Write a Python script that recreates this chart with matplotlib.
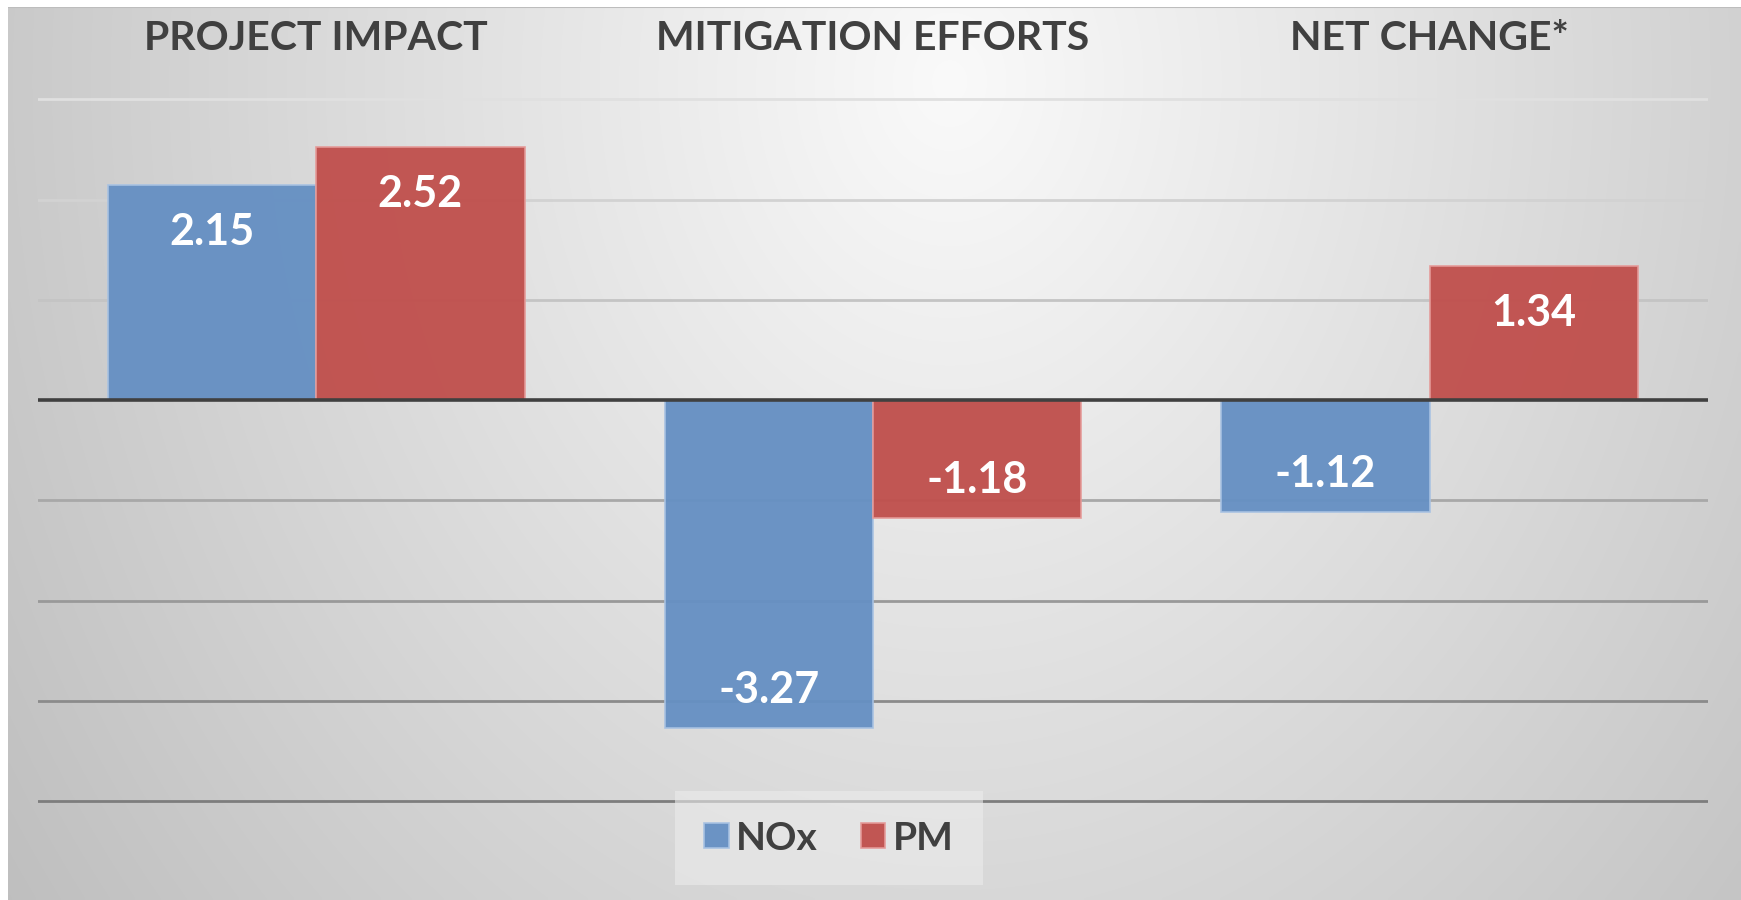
"""
Emissões: impacto do projeto, mitigação e variação líquida (NOx vs PM)
Execute: python plot.py
"""
import numpy as np
import matplotlib
matplotlib.use("Agg")
import matplotlib.pyplot as plt
from matplotlib.transforms import blended_transform_factory

# %% dados
categorias = ["PROJECT IMPACT", "MITIGATION EFFORTS", "NET CHANGE*"]
series = ["NOx", "PM"]
nox = [2.15, -3.27, -1.12]
pm = [2.52, -1.18, 1.34]
grid_vals = [3, 2, 1, -1, -2, -3, -4]

cores = ["#6690c3", "#c0504d"]
bordas = ["#a8c2e2", "#e59a98"]
fonte = ["Lato", "DejaVu Sans"]
cinza_txt = "#404040"

W, H = 1741, 900
fig = plt.figure(figsize=(W / 100, H / 100), dpi=100)
fig.patch.set_facecolor("white")

# %% fundo com gradiente radial (estilo Excel)
bg = fig.add_axes([8 / W, 0, 1 - 8 / W, 1 - 7 / H])
xx, yy = np.meshgrid(np.linspace(8, W, 400), np.linspace(7, H, 220))
r = np.sqrt(((xx - 950) / 900) ** 2 + ((yy - 80) / 1100) ** 2)
lum = np.clip(0.98 - 0.18 * r, 0, 1)
bg.imshow(np.dstack([lum, lum, lum]), aspect="auto", interpolation="bilinear",
          extent=[0, 1, 0, 1])
bg.axhline(1, color="#bdbdbd", lw=1.5)
bg.set_axis_off()

# %% eixo principal
x0, x1 = 38, 1708
ax = fig.add_axes([x0 / W, 0, (x1 - x0) / W, 1])
ax.patch.set_alpha(0)
ax.set_xlim(-0.5, 2.5)
ax.set_ylim(-4.985, 3.99)
ax.set_axis_off()

for v in grid_vals:
    g = np.interp(v, [-4, 3], [0.49, 0.88])
    ax.axhline(v, color=(g, g, g), lw=2, zorder=1)
ax.axhline(0, color="#404040", lw=2.6, zorder=4)

x = np.arange(len(categorias))
w = 0.374
for i, (vals, cor, borda, nome) in enumerate(zip([nox, pm], cores, bordas, series)):
    pos = x + (i - 0.5) * w
    ax.bar(pos, vals, width=w, color=cor, edgecolor=borda, linewidth=1.2,
           alpha=0.96, zorder=3, label=nome)
    for xb, v in zip(pos, vals):
        off = -47 if v > 0 else 38
        ax.annotate(f"{v:.2f}", (xb, v), xytext=(0, off), textcoords="offset pixels",
                    ha="center", va="center", color="white", fontsize=31,
                    fontweight="bold", family=fonte, zorder=5)

trans = blended_transform_factory(ax.transData, ax.transAxes)
for xi, cat in zip(x, categorias):
    ax.text(xi, 1 - 39 / H, cat, transform=trans, ha="center", va="center",
            fontsize=29.5, fontweight="bold", color=cinza_txt, family=fonte)

leg = fig.legend(loc="center", bbox_to_anchor=(829 / W, 1 - 838 / H), ncol=2,
                 frameon=True, handlelength=0.62, handleheight=0.62,
                 handletextpad=0.2, columnspacing=1.1, borderpad=0.75,
                 borderaxespad=0,
                 prop={"family": fonte, "weight": "bold", "size": 28})
leg.get_frame().set_facecolor("#ececec")
leg.get_frame().set_alpha(0.6)
leg.get_frame().set_edgecolor("none")
leg.get_frame().set_boxstyle("square", pad=0)
for t in leg.get_texts():
    t.set_color(cinza_txt)

fig.savefig("out.png", dpi=100)
